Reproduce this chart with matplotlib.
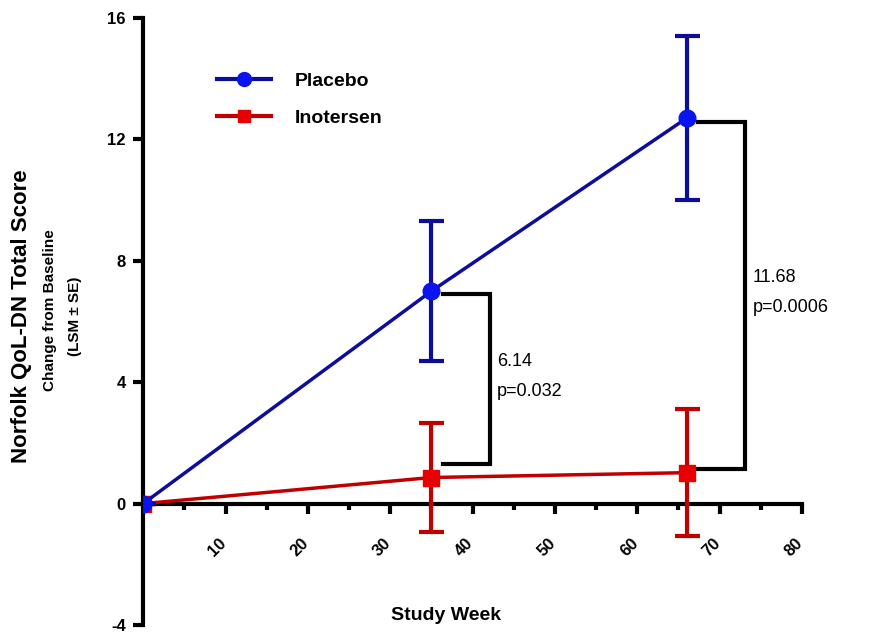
import numpy as np
import matplotlib
matplotlib.use("Agg")
import matplotlib.pyplot as plt
from matplotlib.lines import Line2D
from matplotlib.transforms import ScaledTranslation

plt.rcParams['font.family'] = ['Liberation Sans', 'DejaVu Sans']
plt.rcParams['font.weight'] = 'bold'

# data
weeks = [0, 35, 66]
placebo = [0.0, 7.0, 12.7]
placebo_se = [0.0, 2.3, 2.7]
inotersen = [0.0, 0.86, 1.02]
inotersen_se = [0.0, 1.8, 2.1]

diff_labels = ["6.14\np=0.032", "11.68\np=0.0006"]

blue_line = "#0d0d9c"
blue_mark = "#0a14f0"
red_line = "#c00000"
red_mark = "#e60000"

fig = plt.figure(figsize=(8.95, 6.33), dpi=100)
ax = fig.add_axes([0.16, 0.0126, 0.736, 0.959])

ax.spines['top'].set_visible(False)
ax.spines['right'].set_visible(False)
ax.spines['bottom'].set_position(('data', 0))
ax.spines['bottom'].set_linewidth(3)
ax.spines['left'].set_linewidth(3)

ax.errorbar(weeks, inotersen, yerr=inotersen_se, color=red_line, lw=2.5,
            marker='s', ms=11, mfc=red_mark, mec=red_mark,
            elinewidth=3, capsize=9, capthick=3, zorder=3)
ax.errorbar(weeks, placebo, yerr=placebo_se, color=blue_line, lw=2.5,
            marker='o', ms=12, mfc=blue_mark, mec=blue_mark,
            elinewidth=3, capsize=9, capthick=3, zorder=4)

# difference brackets
tops = [6.9, 12.57]
bots = [1.3, 1.14]
for i, wk in enumerate(weeks[1:]):
    x0 = wk + 1.4
    x1 = wk + 7.1
    ax.plot([x0, x1, x1, x0], [tops[i], tops[i], bots[i], bots[i]],
            color='black', lw=3, solid_joinstyle='miter', clip_on=False)
    ax.text(x1 + 0.9, (tops[i] + bots[i]) / 2 + 0.1, diff_labels[i],
            fontsize=13, fontweight='normal', linespacing=2.0,
            va='center', ha='left', clip_on=False)

ax.set_xlim(0, 80)
ax.set_ylim(-4, 16)
ax.set_yticks([-4, 0, 4, 8, 12, 16])
ax.set_yticklabels(['-4', '0', '4', '8', '12', '16'])
ax.set_xticks(np.arange(10, 81, 10))
ax.set_xticks(np.arange(5, 81, 5), minor=True)
ax.set_xticklabels([str(v) for v in range(10, 81, 10)], rotation=45,
                   ha='center', va='center', rotation_mode='anchor')

ax.tick_params(axis='both', which='both', direction='out', width=3,
               labelsize=12)
ax.tick_params(axis='x', which='major', length=7.5, pad=24)
ax.tick_params(axis='x', which='minor', length=4.5)
ax.tick_params(axis='y', length=7.5, pad=5)
shift = ScaledTranslation(-0.08, 0, fig.dpi_scale_trans)
for lab in ax.get_xticklabels():
    lab.set_transform(lab.get_transform() + shift)

ax.text(0.46, 0.015, 'Study Week', transform=ax.transAxes, fontsize=14,
        ha='center', va='center')
fig.text(0.024, 0.5, 'Norfolk QoL-DN Total Score', rotation=90,
         fontsize=16, ha='center', va='center')
fig.text(0.056, 0.51, 'Change from Baseline', rotation=90,
         fontsize=11, ha='center', va='center')
fig.text(0.084, 0.5, '(LSM ± SE)', rotation=90,
         fontsize=11, ha='center', va='center')

handles = [
    Line2D([], [], color=blue_line, lw=3, marker='o', ms=10,
           mfc=blue_mark, mec=blue_mark),
    Line2D([], [], color=red_line, lw=3, marker='s', ms=9,
           mfc=red_mark, mec=red_mark),
]
ax.legend(handles, ['Placebo', 'Inotersen'], loc='upper left',
          bbox_to_anchor=(0.085, 0.94), frameon=False, fontsize=14,
          handlelength=2.8, labelspacing=1.0, handletextpad=1.2)

fig.savefig('out.png', dpi=100, facecolor='white')
